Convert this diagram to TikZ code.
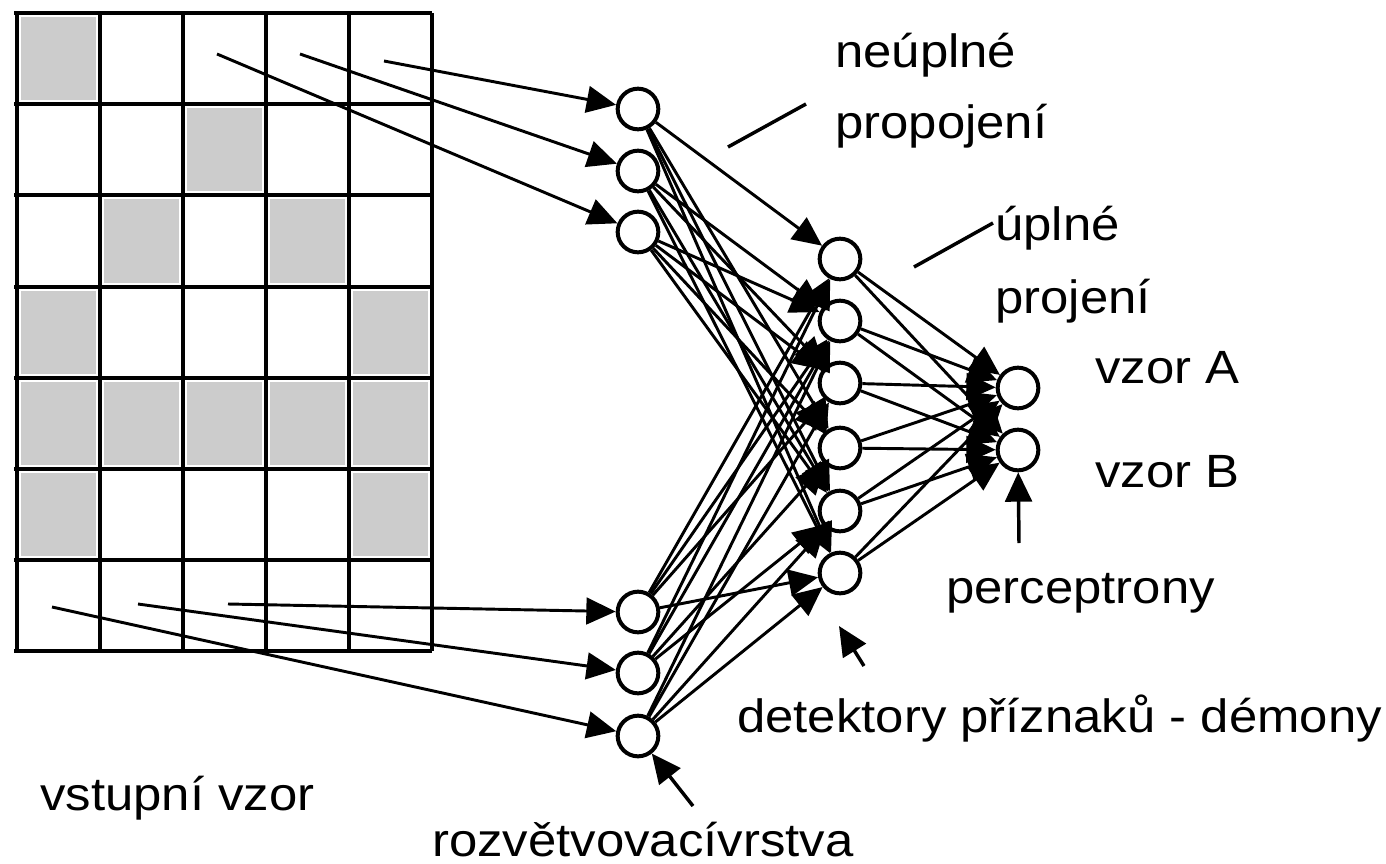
\documentclass[tikz,border=0pt]{standalone}
\usepackage{fontspec}
\setmainfont[FakeStretch=1.09]{Liberation Sans}
\usetikzlibrary{arrows.meta}

\begin{document}
\begin{tikzpicture}[x=0.75pt,y=-0.75pt,
  neuron/.style={circle,draw,line width=3pt,minimum size=30.5pt,inner sep=0pt},
  link/.style={line width=2.2pt,-{Triangle[length=22pt,width=20pt]}},
  pointer/.style={line width=2.6pt,-{Triangle[length=22pt,width=20pt]}},
  leader/.style={line width=2.6pt},
  gridline/.style={line width=3pt},
  cell/.style={fill=black!20},
  lbl/.style={anchor=base west,inner sep=0pt,font=\fontsize{35}{40}\selectfont}]
\useasboundingbox (0,0) rectangle (1386,864);

% shaded cells of the input pattern (column, row)
\foreach \c/\r in {0/0, 2/1, 1/2, 3/2, 0/3, 4/3, 0/4, 1/4, 2/4, 3/4, 4/4, 0/5, 4/5}
  \fill[cell] ({16.7+83*\c+4},{13+91.2*\r+4}) rectangle ({16.7+83*(\c+1)-4},{13+91.2*(\r+1)-4});

% grid lines
\foreach \c in {0,...,5}
  \draw[gridline] ({16.7+83*\c},13) -- ({16.7+83*\c},651.4);
\foreach \r in {0,...,7}
  \draw[gridline] (14,{13+91.2*\r}) -- (432,{13+91.2*\r});

% branching layer
\node[neuron] (b1) at (638,109) {};
\node[neuron] (b2) at (638,171) {};
\node[neuron] (b3) at (638,232) {};
\node[neuron] (b4) at (638,612) {};
\node[neuron] (b5) at (638,673) {};
\node[neuron] (b6) at (638,736) {};

% feature detectors
\node[neuron] (d1) at (840,259) {};
\node[neuron] (d2) at (840,321) {};
\node[neuron] (d3) at (840,383) {};
\node[neuron] (d4) at (840,448) {};
\node[neuron] (d5) at (840,511) {};
\node[neuron] (d6) at (840,573) {};

% perceptrons
\node[neuron] (p1) at (1018,388) {};
\node[neuron] (p2) at (1018,450) {};

% sampling points in the input pattern
\coordinate (s1) at (384,61);
\coordinate (s2) at (300,54);
\coordinate (s3) at (217,54);
\coordinate (s4) at (228,604);
\coordinate (s5) at (138,604);
\coordinate (s6) at (52,607);

\draw[link] (s1) -- (b1);
\draw[link] (s2) -- (b2);
\draw[link] (s3) -- (b3);
\draw[link] (s4) -- (b4);
\draw[link] (s5) -- (b5);
\draw[link] (s6) -- (b6);

% partial connections: branching layer to detectors
\foreach \b/\d in {b1/d1, b1/d4, b1/d5, b1/d6,
                   b2/d2, b2/d3, b2/d5, b2/d6,
                   b3/d2, b3/d3, b3/d4, b3/d5,
                   b4/d1, b4/d2, b4/d3, b4/d6,
                   b5/d1, b5/d2, b5/d4, b5/d5,
                   b6/d2, b6/d3, b6/d5, b6/d6}
  \draw[link] (\b) -- (\d);

% full connections: detectors to perceptrons
\foreach \d in {d1,d2,d3,d4,d5,d6}
  \foreach \p in {p1,p2}
    \draw[link] (\d) -- (\p);

% labels
\node[lbl] (t1) at (835,67) {neúplné};
\node[lbl] (t2) at (835,138) {propojení};
\coordinate (l1a) at (728,147);
\coordinate (l1b) at (806,104);
\draw[leader] (l1a) -- (l1b);

\node[lbl] (t3) at (995,240) {úplné};
\node[lbl] (t4) at (995,313) {projení};
\coordinate (l2a) at (914,267);
\coordinate (l2b) at (993,223);
\draw[leader] (l2a) -- (l2b);

\node[lbl] (t5) at (1095,383) {vzor A};
\node[lbl] (t6) at (1095,487) {vzor B};

\node[lbl] (t7) at (946,603) {perceptrony};
\coordinate (a1) at (1019,543);
\draw[pointer] (a1) -- (p2);

\node[lbl] (t8) at (737,732) {detektory příznaků - démony};
\coordinate (a2) at (864,666);
\coordinate (a2t) at (839,626);
\draw[pointer] (a2) -- (a2t);

\node[lbl] (t9) at (40,810) {vstupní vzor};
\node[lbl] (t10) at (432,856) {rozvětvovacívrstva};
\coordinate (a3) at (693,806);
\draw[pointer] (a3) -- (b6);
\end{tikzpicture}
\end{document}
